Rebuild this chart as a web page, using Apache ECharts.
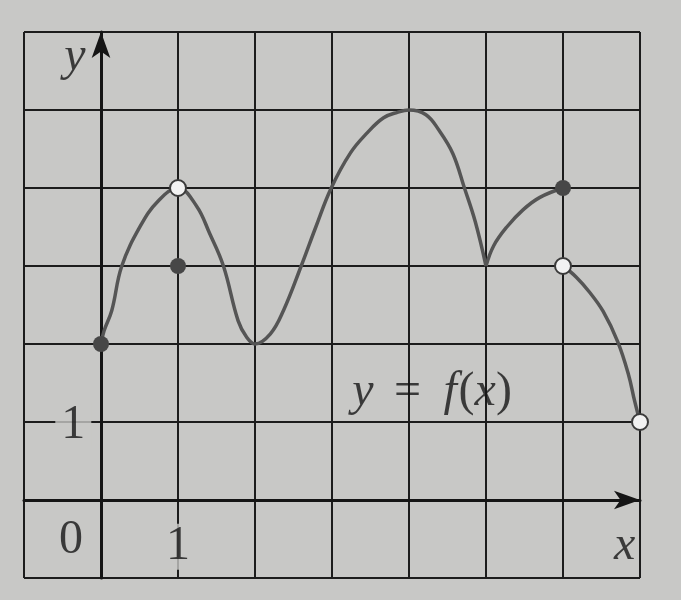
<!DOCTYPE html>
<html>
<head>
<meta charset="utf-8">
<script src="https://cdn.jsdelivr.net/npm/echarts@6/dist/echarts.min.js"></script>
<style>
html,body{margin:0;padding:0;background:#c8c8c6;}
#chart{width:681px;height:600px;}
</style>
</head>
<body>
<div id="chart"></div>
<script>
// Curve pieces: [x, y]
const curveMain = [[0,2],[0.04,2.17],[0.14,2.43],[0.27,3],[0.51,3.51],[0.74,3.83],[1,4],[1.24,3.77],[1.41,3.42],[1.59,3],[1.78,2.3],[1.89,2.09],[2,2],[2.2,2.13],[2.37,2.43],[2.6,3],[2.79,3.5],[2.99,4],[3.24,4.45],[3.46,4.71],[3.67,4.9],[3.85,4.97],[4,5],[4.22,4.94],[4.39,4.74],[4.57,4.44],[4.72,4],[4.86,3.57],[5,3]];
const curveMid = [[5,3],[5.1,3.26],[5.27,3.5],[5.48,3.72],[5.7,3.88],[6,4]];
const curveEnd = [[6,3],[6.17,2.86],[6.34,2.67],[6.52,2.42],[6.71,2.03],[6.85,1.61],[6.93,1.27],[7,1]];
const filledPoints = [[0,2],[1,3],[6,4]];
const openPoints = [[1,4],[6,3],[7,1]];
// tick labels and other text, anchored in data units
const tickLabels = [
  {value:[1,-0.6], text:'1'},
  {value:[-0.36,0.96], text:'1'}
];
const textLabels = [
  {value:[-0.39,-0.52], text:'0'},
  {value:[6.8,-0.6], text:'x'},
  {value:[-0.34,5.68], text:'y'},
  {value:[4.3,1.38], text:'fx'}
];

const BG = '#c8c8c6';
const serif = '"Liberation Serif","DejaVu Serif",serif';
const chart = echarts.init(document.getElementById('chart'));

function lineSeries(data){
  return {type:'line', data:data, smooth:0.4, symbol:'none', z:3,
    lineStyle:{color:'#555555', width:3.5}};
}
const axisCommon = {
  axisLine:{onZero:true, lineStyle:{color:'#151515', width:3}, symbol:['none','arrow'], symbolSize:[14,26], symbolOffset:[0,0]},
  axisTick:{show:false},
  axisLabel:{show:false},
  splitLine:{show:true, lineStyle:{color:'#1c1c1c', width:2}}
};

chart.setOption({
  backgroundColor: BG,
  animation:false,
  grid:{left:24, right:41, top:32, bottom:22, outerBoundsMode:'none', containLabel:false},
  xAxis:Object.assign({type:'value', min:-1, max:7, interval:1}, axisCommon),
  yAxis:Object.assign({type:'value', min:-1, max:6, interval:1}, axisCommon),
  series:[
    lineSeries(curveMain),
    lineSeries(curveMid),
    lineSeries(curveEnd),
    {type:'scatter', data:filledPoints, symbol:'circle', symbolSize:16, z:5,
      itemStyle:{color:'#474747', opacity:1}},
    {type:'scatter', data:openPoints, symbol:'circle', symbolSize:16, z:5,
      itemStyle:{color:'#f2f2f2', borderColor:'#3a3a3a', borderWidth:2, opacity:1}},
    {type:'scatter', data:tickLabels, symbolSize:0, z:6, silent:true,
      label:{show:true, position:'inside', formatter:function(p){return p.data.text;},
        fontFamily:serif, fontSize:48, color:'#151515', backgroundColor:BG, padding:[0,6,0,6], lineHeight:46}},
    {type:'scatter', data:textLabels, symbolSize:0, z:6, silent:true,
      label:{show:true, position:'inside',
        formatter:function(p){
          const t = p.data.text;
          if(t==='fx') return '{i|y}{e|=}{f|f}{n|(}{i|x}{n|)}';
          if(t==='0') return '{n|0}';
          return '{i|'+t+'}';
        },
        rich:{
          i:{fontFamily:serif, fontStyle:'italic', fontSize:48, color:'#151515'},
          f:{fontFamily:serif, fontStyle:'italic', fontSize:48, color:'#151515', width:17, align:'left'},
          n:{fontFamily:serif, fontSize:48, color:'#151515'},
          e:{fontFamily:serif, fontSize:48, color:'#151515', width:68, align:'center'}
        }}}
  ]
});
</script>
</body>
</html>
